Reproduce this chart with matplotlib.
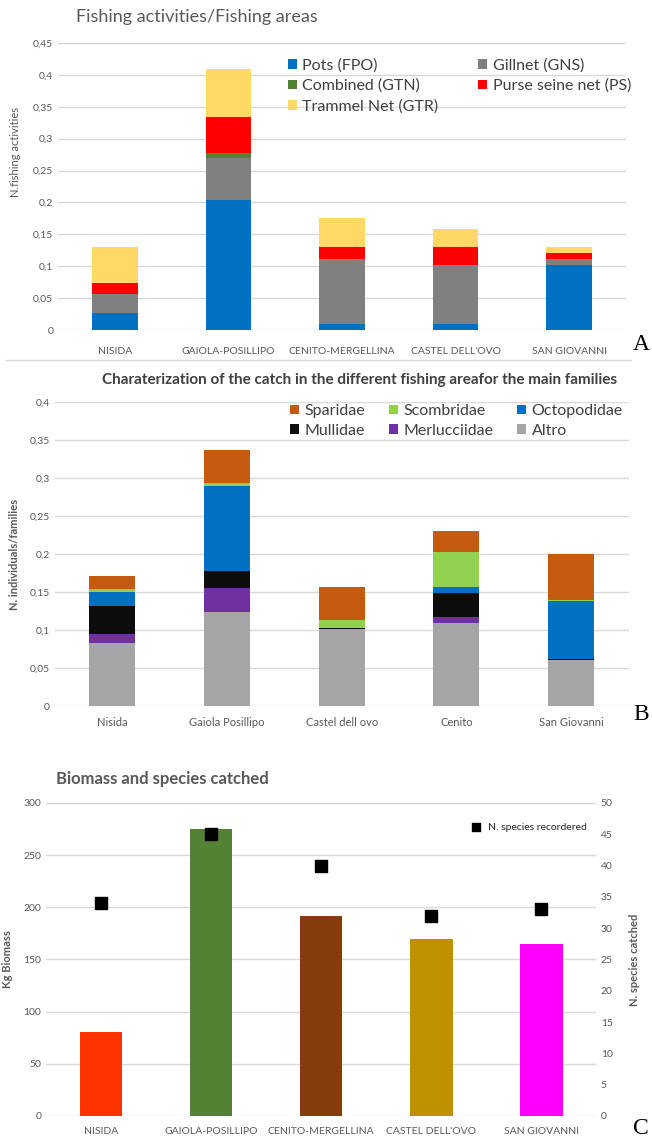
# Fishing activities / catch / biomass - three stacked panels
import numpy as np
import matplotlib.pyplot as plt
from matplotlib.lines import Line2D

plt.rcParams['font.family'] = ['Lato', 'DejaVu Sans']

# ---- panel A data
areas_a = ['NISIDA', 'GAIOLA-POSILLIPO', 'CENITO-MERGELLINA', "CASTEL DELL'OVO", 'SAN GIOVANNI']
gears = ['Pots (FPO)', 'Gillnet (GNS)', 'Combined (GTN)', 'Purse seine net (PS)', 'Trammel Net (GTR)']
pots = [0.027, 0.204, 0.010, 0.010, 0.102]
gillnet = [0.029, 0.065, 0.102, 0.092, 0.010]
combined = [0.0, 0.009, 0.0, 0.0, 0.0]
purse = [0.018, 0.056, 0.018, 0.028, 0.009]
trammel = [0.056, 0.075, 0.046, 0.028, 0.009]
gear_colors = ['#0070C0', '#808080', '#548235', '#FF0000', '#FFD966']
yticks_a = [0, 0.05, 0.1, 0.15, 0.2, 0.25, 0.3, 0.35, 0.4, 0.45]
ylabels_a = ['0', '0,05', '0,1', '0,15', '0,2', '0,25', '0,3', '0,35', '0,4', '0,45']

# ---- panel B data
areas_b = ['Nisida', 'Gaiola Posillipo', 'Castel dell ovo', 'Cenito', 'San Giovanni']
families = ['Altro', 'Merlucciidae', 'Mullidae', 'Octopodidae', 'Scombridae', 'Sparidae']
altro = [0.083, 0.124, 0.101, 0.109, 0.060]
merluc = [0.012, 0.031, 0.0, 0.008, 0.0]
mullidae = [0.037, 0.023, 0.002, 0.032, 0.002]
octopod = [0.018, 0.112, 0.0, 0.008, 0.076]
scombr = [0.004, 0.004, 0.010, 0.046, 0.001]
sparidae = [0.017, 0.043, 0.044, 0.027, 0.061]
fam_colors = ['#A5A5A5', '#7030A0', '#0D0D0D', '#0070C0', '#92D050', '#C55A11']
yticks_b = [0, 0.05, 0.1, 0.15, 0.2, 0.25, 0.3, 0.35, 0.4]
ylabels_b = ['0', '0,05', '0,1', '0,15', '0,2', '0,25', '0,3', '0,35', '0,4']

# ---- panel C data
biomass = [80, 275, 192, 170, 165]
n_species = [34, 45, 40, 32, 33]
bio_colors = ['#FF3300', '#548235', '#843C0C', '#BF9000', '#FF00FF']

grid_c = '#D9D9D9'
tick_c = '#595959'

fig = plt.figure(figsize=(6.52, 11.4), dpi=100)


def style(ax):
    for s in ax.spines.values():
        s.set_visible(False)
    ax.yaxis.grid(True, color=grid_c, lw=1)
    ax.set_axisbelow(True)
    ax.tick_params(length=0, colors=tick_c, labelsize=7.5)


# ================= A
axA = fig.add_axes([0.089, 0.7105, 0.871, 0.2518])
x = np.arange(len(areas_a))
bottom = np.zeros(len(areas_a))
bars = []
for vals, col, lab in zip([pots, gillnet, combined, purse, trammel], gear_colors, gears):
    b = axA.bar(x, vals, 0.4, bottom=bottom, color=col, label=lab)
    bars.append(b)
    bottom += np.array(vals)
style(axA)
axA.set_xlim(-0.5, 4.5)
axA.set_ylim(0, 0.45)
axA.set_yticks(yticks_a, ylabels_a)
axA.set_xticks(x, areas_a)
axA.tick_params(axis='x', pad=12)
axA.set_ylabel('N.fishing activities', fontsize=8, color=tick_c, labelpad=6)
axA.yaxis.set_label_coords(-0.065, 0.62)
order = [0, 2, 4, 1, 3]
fig.legend([bars[i] for i in order], [gears[i] for i in order], ncol=2, frameon=False,
           loc='upper left', bbox_to_anchor=(288 / 652, 1 - 58 / 1140), fontsize=11.5,
           handlelength=0.55, handleheight=0.55, handletextpad=0.35,
           columnspacing=2.5, labelspacing=0.4, borderaxespad=0, borderpad=0,
           labelcolor='#404040')
fig.text(76 / 652, 1 - 17 / 1140, 'Fishing activities/Fishing areas', fontsize=13,
         color='#595959', va='center')
fig.text(641 / 652, 1 - 345 / 1140, 'A', family='Liberation Serif', fontsize=17,
         ha='center', va='center')
fig.add_artist(Line2D([6 / 652, 631 / 652], [1 - 360 / 1140, 1 - 360 / 1140],
                      color='#D9D9D9', lw=1))

# ================= B
axB = fig.add_axes([0.084, 0.3807, 0.880, 0.2667])
bottom = np.zeros(len(areas_b))
hb = []
for vals, col, lab in zip([altro, merluc, mullidae, octopod, scombr, sparidae], fam_colors, families):
    b = axB.bar(x, vals, 0.4, bottom=bottom, color=col, label=lab)
    hb.append(b)
    bottom += np.array(vals)
style(axB)
axB.set_xlim(-0.5, 4.5)
axB.set_ylim(0, 0.4)
axB.set_yticks(yticks_b, ylabels_b)
axB.set_xticks(x, areas_b)
axB.tick_params(axis='x', labelsize=8, pad=8)
axB.set_ylabel('N. individuals/families', fontsize=8, color=tick_c, fontweight='bold')
axB.yaxis.set_label_coords(-0.06, 0.5)
# legend rows: Sparidae Scombridae Octopodidae / Mullidae Merlucciidae Altro
order_b = [5, 2, 4, 1, 3, 0]
fig.legend([hb[i] for i in order_b], [families[i] for i in order_b], ncol=3, frameon=False,
           loc='upper left', bbox_to_anchor=(290 / 652, 1 - 404 / 1140), fontsize=11.5,
           handlelength=0.55, handleheight=0.55, handletextpad=0.35,
           columnspacing=1.5, labelspacing=0.35, borderaxespad=0, borderpad=0,
           labelcolor='#404040')
fig.text(617 / 652, 1 - 380 / 1140,
         'Charaterization of the catch in the different fishing areafor the main families',
         fontsize=11, fontweight='bold', color='#404040', ha='right', va='center')
fig.text(641 / 652, 1 - 715 / 1140, 'B', family='Liberation Serif', fontsize=17,
         ha='center', va='center')

# ================= C
axC = fig.add_axes([0.0706, 0.0211, 0.8436, 0.2746])
axC.bar(x, biomass, 0.39, color=bio_colors)
style(axC)
axC.set_xlim(-0.5, 4.5)
axC.set_ylim(0, 300)
axC.set_yticks(np.arange(0, 301, 50))
axC.set_xticks(x, areas_a)
axC.tick_params(axis='x', pad=8)
axC.set_ylabel('Kg Biomass', fontsize=8, color=tick_c, fontweight='bold')
axC.yaxis.set_label_coords(-0.06, 0.5)
axC2 = axC.twinx()
axC2.scatter(x, n_species, marker='s', s=75, color='black', zorder=3,
             label='N. species recordered')
for s in axC2.spines.values():
    s.set_visible(False)
axC2.tick_params(length=0, colors=tick_c, labelsize=7.5)
axC2.set_ylim(0, 50)
axC2.set_yticks(np.arange(0, 51, 5))
axC2.set_ylabel('N. species catched', fontsize=8, color=tick_c, fontweight='bold')
axC2.yaxis.set_label_coords(1.06, 0.5)
fig.legend(handles=axC2.collections, labels=['N. species recordered'], frameon=False,
           loc='center left', bbox_to_anchor=(466 / 652, 1 - 827 / 1140), fontsize=7.5,
           handletextpad=0.1, markerscale=0.6, borderaxespad=0, borderpad=0,
           labelcolor='#262626')
fig.text(56 / 652, 1 - 779 / 1140, 'Biomass and species catched', fontsize=12,
         fontweight='bold', color='#595959', va='center')
fig.text(641 / 652, 1 - 1128 / 1140, 'C', family='Liberation Serif', fontsize=17,
         ha='center', va='center')

fig.savefig('out.png', dpi=100)
